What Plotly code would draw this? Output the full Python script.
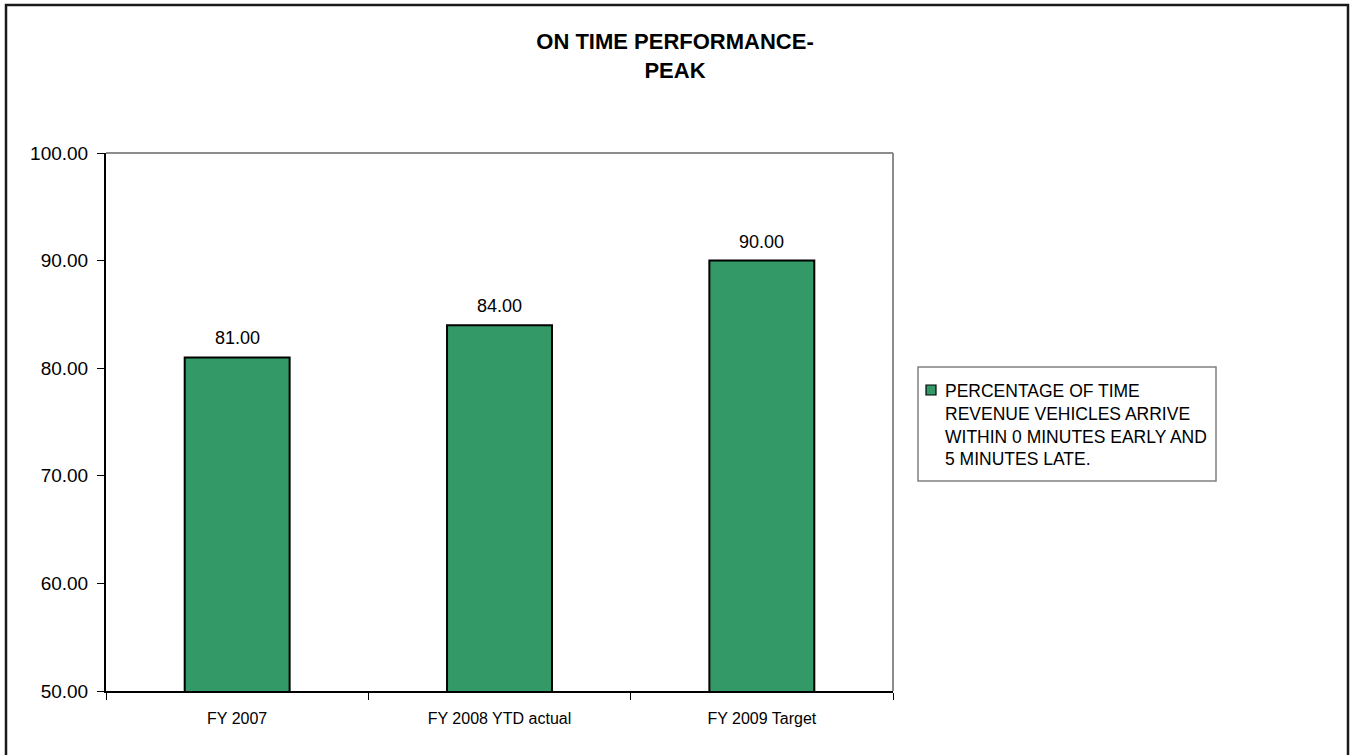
import plotly.graph_objects as go

# On-time performance during peak hours
categories = ["FY 2007", "FY 2008 YTD actual", "FY 2009 Target"]
on_time_pct = [81.00, 84.00, 90.00]
series_name = ("PERCENTAGE OF TIME<br>REVENUE VEHICLES ARRIVE<br>"
               "WITHIN 0 MINUTES EARLY AND<br>5 MINUTES LATE.")
y_ticks = [50, 60, 70, 80, 90, 100]

FONT = "Arial, Liberation Sans, sans-serif"

W, H = 1350, 755
L, R, T, B = 106, 457, 153, 64
pw, ph = W - L - R, H - T - B


def px_x(x):
    return (x - L) / pw


def px_y(y):
    return (H - B - y) / ph


fig = go.Figure()
fig.add_trace(go.Bar(
    x=categories,
    y=on_time_pct,
    name=series_name,
    marker=dict(color="#339966", line=dict(color="black", width=2)),
    width=0.4,
    showlegend=False,
))

# value labels above each bar
annotations = [
    dict(x=c, y=v, xref="x", yref="y", text=f"{v:.2f}", showarrow=False,
         yanchor="bottom", yshift=7,
         font=dict(family=FONT, size=18, color="black"))
    for c, v in zip(categories, on_time_pct)
]

# legend text
annotations.append(dict(
    x=px_x(943), y=px_y(379), xref="paper", yref="paper",
    xanchor="left", yanchor="top", align="left", showarrow=False,
    text=series_name,
    font=dict(family=FONT, size=17.5, color="black"),
))

shapes = [
    # gray top and right edges of the plot area
    dict(type="line", xref="paper", yref="paper", x0=0, x1=1, y0=1, y1=1,
         line=dict(color="#8c8c8c", width=2)),
    dict(type="line", xref="paper", yref="paper", x0=1, x1=1, y0=0, y1=1,
         line=dict(color="#8c8c8c", width=2)),
    # outer chart frame
    dict(type="rect", xref="paper", yref="paper",
         x0=px_x(6), x1=px_x(1348), y0=px_y(5), y1=px_y(800),
         line=dict(color="#1a1a1a", width=2.5), layer="below"),
    # legend box and swatch
    dict(type="rect", xref="paper", yref="paper",
         x0=px_x(918), x1=px_x(1216), y0=px_y(367), y1=px_y(481),
         line=dict(color="#808080", width=1.5), fillcolor="white"),
    dict(type="rect", xref="paper", yref="paper",
         x0=px_x(926), x1=px_x(936), y0=px_y(385), y1=px_y(395),
         line=dict(color="black", width=1.2), fillcolor="#339966"),
]

fig.update_layout(
    width=W, height=H,
    margin=dict(l=L, r=R, t=T, b=B),
    paper_bgcolor="white",
    plot_bgcolor="white",
    font=dict(family=FONT, color="black"),
    showlegend=False,
    title=dict(
        text="<b>ON TIME PERFORMANCE-<br>PEAK</b>",
        x=0.5, xanchor="center", xref="container",
        y=1 - 49 / H, yanchor="top", yref="container",
        font=dict(family=FONT, size=22, color="black"),
    ),
    xaxis=dict(
        type="category",
        showline=True, linecolor="black", linewidth=2,
        ticks="outside", tickson="boundaries", ticklen=7, tickcolor="black",
        ticklabelstandoff=12,
        tickfont=dict(family=FONT, size=16, color="black"),
        showgrid=False,
    ),
    yaxis=dict(
        range=[50, 100],
        tickvals=y_ticks,
        tickformat=".2f",
        showline=True, linecolor="black", linewidth=2,
        ticks="outside", ticklen=7, tickcolor="black",
        ticklabelstandoff=5,
        tickfont=dict(family=FONT, size=19, color="black"),
        showgrid=False, zeroline=False,
    ),
    annotations=annotations,
    shapes=shapes,
)

fig.write_html("out.html")
